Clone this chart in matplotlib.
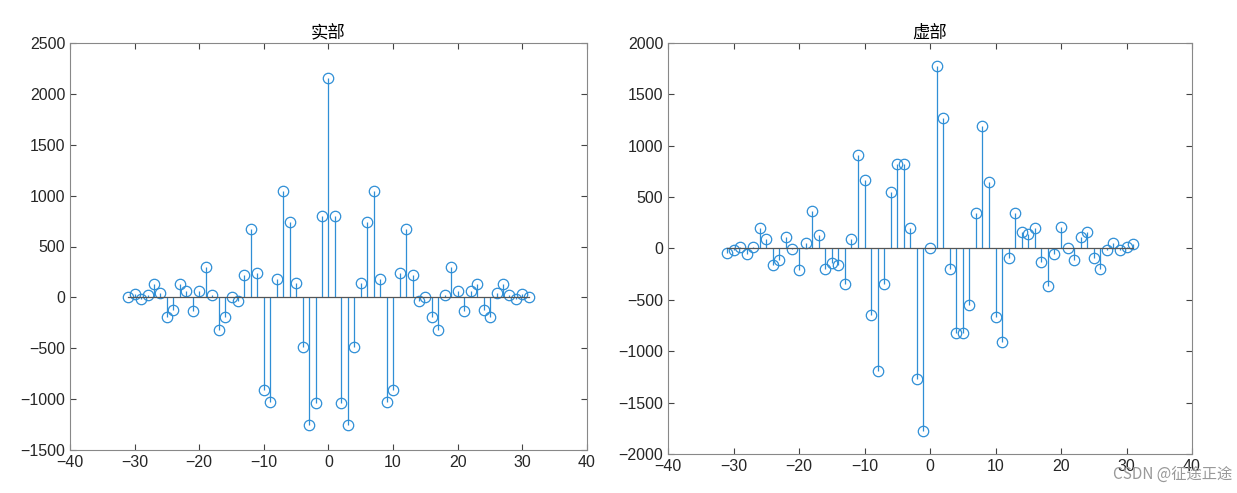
import numpy as np
import matplotlib
matplotlib.use("Agg")
import matplotlib.pyplot as plt

plt.rcParams['font.family'] = ['Liberation Sans', 'Noto Sans CJK SC', 'DejaVu Sans']

n = np.arange(-31, 32)
re_neg = [0, 33, -16, 23, 131, 39, -196, -124, 131, 65, -137, 65, 301, 26, -324, -190,
          7, -39, 219, 676, 235, -908, -1026, 183, 1042, 742, 137, -487, -1258, -1042, 801, 2157]
im_neg = [-39, -16, 10, -58, 10, 195, 94, -162, -114, 114, -6, -208, 58, 367, 136, -195,
          -140, -162, -344, 88, 906, 669, -649, -1192, -344, 552, 825, 825, 195, -1266, -1779, 0]
real = np.array(re_neg + re_neg[-2::-1])
imag = np.array(im_neg + [-v for v in im_neg[-2::-1]])

c = '#2F8FD6'
fig = plt.figure(figsize=(12.37, 4.93), dpi=100)
ax1 = fig.add_axes([70/1237, 1-450/493, 517/1237, 407/493])
ax2 = fig.add_axes([668/1237, 1-454/493, 524/1237, 411/493])

for ax, y, title, yl, yt in [(ax1, real, '实部', (-1500, 2500), np.arange(-1500, 2501, 500)),
                              (ax2, imag, '虚部', (-2000, 2000), np.arange(-2000, 2001, 500))]:
    ml, sl, bl = ax.stem(n, y)
    plt.setp(ml, markerfacecolor='none', markeredgecolor=c, markersize=7.5, markeredgewidth=0.9)
    plt.setp(sl, color=c, linewidth=0.9)
    plt.setp(bl, color='#555555', linewidth=0.9)
    ax.set_xlim(-40, 40)
    ax.set_ylim(*yl)
    ax.set_yticks(yt)
    ax.set_xticks(np.arange(-40, 41, 10))
    ax.tick_params(direction='in', labelsize=11.5, color='#444444', labelcolor='#262626',
                   length=4, top=True, right=True)
    for s in ax.spines.values():
        s.set_color('#888888')
        s.set_linewidth(0.8)
    ax.set_title(title, fontsize=12.5, fontweight='medium', pad=4, family=['Noto Sans CJK SC'])

fig.text(1232/1237, 1-474/493, 'CSDN @征途正途', ha='right', va='center', fontsize=11, color='#999999',
         family=['Noto Sans CJK SC', 'DejaVu Sans'])
fig.savefig('out.png', dpi=100)
